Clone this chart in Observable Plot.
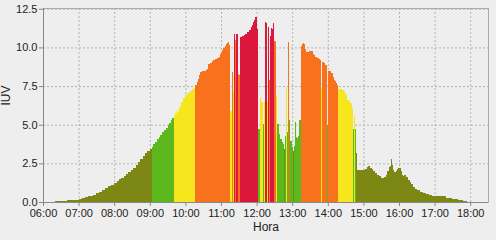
<!DOCTYPE html>
<html>
<head>
<meta charset="utf-8">
<script src="https://cdn.jsdelivr.net/npm/d3@7"></script>
<script src="https://cdn.jsdelivr.net/npm/@observablehq/plot@0.6"></script>
<style>
  html, body { margin: 0; padding: 0; background: #eeeeee; }
  .uv [aria-label$="tick"] { color: #888888; }
</style>
</head>
<body>
<div id="chart"></div>
<script>
// Axis titles
const xTitle = "Hora";
const yTitle = "IUV";
// Hour tick labels
const hourTicks = ["06:00","07:00","08:00","09:00","10:00","11:00","12:00","13:00","14:00","15:00","16:00","17:00","18:00"];
const uvTicks = [0, 2.5, 5, 7.5, 10, 12.5];
// UV class breaks and colours
const uvBreaks = [3.5, 5.5, 7.5, 10.5];
const uvColors = ["#7d8714", "#5cb81c", "#f5e61e", "#f8711c", "#dc173c"];

// Measurement times (HH:MM), 10 per row
const times = [
  "06:00","06:10","06:20","06:30","06:40","06:50","07:00","07:05","07:10","07:15",
  "07:20","07:25","07:30","07:35","07:40","07:45","07:50","07:55","08:00","08:04",
  "08:08","08:12","08:16","08:20","08:24","08:28","08:32","08:36","08:40","08:44",
  "08:48","08:52","08:56","09:00","09:03","09:06","09:09","09:12","09:15","09:18",
  "09:21","09:24","09:27","09:30","09:33","09:36","09:38","09:40","09:43","09:46",
  "09:48","09:50","09:53","09:56","09:59","10:02","10:05","10:08","10:11","10:14",
  "10:17","10:19","10:21","10:23","10:25","10:28","10:31","10:34","10:36","10:38",
  "10:41","10:44","10:47","10:50","10:53","10:56","10:58","11:00","11:02","11:04",
  "11:06","11:08","11:10","11:12","11:14","11:16","11:18","11:19","11:20","11:21",
  "11:22","11:24","11:26","11:28","11:30","11:32","11:35","11:38","11:41","11:44",
  "11:47","11:50","11:52","11:54","11:56","11:58","12:00","12:01","12:03","12:05",
  "12:06","12:07","12:08","12:10","12:11","12:13","12:14","12:16","12:17","12:19",
  "12:20","12:21","12:22","12:24","12:26","12:28","12:30","12:32","12:33","12:34",
  "12:35","12:37","12:38","12:40","12:42","12:44","12:46","12:47","12:48","12:50",
  "12:51","12:52","12:53","12:54","12:55","12:56","12:57","12:59","13:00","13:01",
  "13:03","13:04","13:05","13:06","13:08","13:09","13:11","13:12","13:14","13:16",
  "13:18","13:20","13:22","13:24","13:26","13:29","13:32","13:35","13:37","13:39",
  "13:42","13:45","13:47","13:48","13:50","13:53","13:56","13:58","13:59","14:00",
  "14:03","14:06","14:08","14:10","14:12","14:14","14:16","14:17","14:18","14:21",
  "14:24","14:27","14:29","14:31","14:32","14:33","14:36","14:38","14:40","14:42",
  "14:44","14:45","14:46","14:47","14:48","14:50","14:54","14:57","15:00","15:03",
  "15:06","15:08","15:11","15:14","15:17","15:20","15:23","15:26","15:29","15:32",
  "15:35","15:38","15:40","15:43","15:45","15:47","15:48","15:50","15:52","15:55",
  "15:57","15:59","16:01","16:03","16:05","16:07","16:09","16:12","16:15","16:18",
  "16:21","16:24","16:27","16:30","16:35","16:40","16:45","16:50","16:55","17:00",
  "17:10","17:20","17:30","17:40","17:48","17:55"
];
// UV index values, aligned with times
const uv = [
  0.01,0.02,0.04,0.07,0.11,0.16,0.21,0.25,0.30,0.36,
  0.42,0.48,0.56,0.66,0.77,0.90,1.02,1.12,1.23,1.35,
  1.46,1.57,1.69,1.80,1.92,2.04,2.20,2.40,2.60,2.80,
  2.98,3.15,3.32,3.45,3.56,3.72,3.90,4.05,4.20,4.35,
  4.50,4.65,4.80,4.95,5.10,5.28,5.45,5.55,5.75,5.92,
  5.85,6.15,6.45,6.75,6.95,7.00,7.08,7.18,7.28,7.40,
  7.55,7.75,7.98,8.20,8.40,8.48,8.48,8.52,8.60,8.90,
  9.00,9.10,9.20,9.25,9.30,9.40,9.55,9.70,9.82,9.95,
  10.08,10.20,10.30,10.38,10.15,5.90,10.10,8.40,10.93,7.10,
  10.90,10.45,10.90,8.30,8.20,10.70,10.75,10.80,10.90,11.00,
  11.15,11.30,11.45,11.64,11.80,11.97,11.86,11.20,4.70,5.23,
  6.75,8.27,6.45,6.56,5.04,6.50,11.66,11.60,6.50,11.40,
  11.35,7.90,10.75,11.27,11.20,11.58,10.43,10.00,6.86,9.80,
  5.02,4.90,4.37,4.10,3.90,3.75,3.60,3.45,4.26,7.47,
  6.34,4.50,10.32,4.37,5.30,4.10,3.93,3.75,3.55,3.30,
  3.60,5.34,5.20,4.20,4.15,4.30,5.34,5.30,10.10,10.25,
  10.28,10.20,9.93,9.70,9.72,9.78,9.75,9.56,9.50,9.35,
  9.30,9.28,9.20,7.40,9.05,9.00,8.85,8.75,5.00,8.50,
  8.45,8.35,8.10,7.90,7.80,7.70,7.55,4.30,7.30,7.33,
  7.25,7.18,7.00,6.90,4.80,6.60,6.55,6.40,6.10,4.70,
  5.56,5.47,4.70,4.00,3.18,2.10,2.09,2.05,2.05,2.14,
  2.25,2.31,2.22,2.14,2.00,1.90,1.77,1.65,1.57,1.58,
  1.63,1.75,1.99,2.25,2.35,2.81,2.40,2.10,1.92,2.00,
  2.12,2.20,2.18,1.99,1.75,1.66,1.77,1.60,1.45,1.30,
  1.15,0.95,0.82,0.75,0.66,0.58,0.52,0.47,0.42,0.37,
  0.36,0.28,0.20,0.15,0.09,0
];

const toDate = s => { const [h, m] = s.split(":").map(Number); return new Date(Date.UTC(2000, 0, 1, h, m)); };
const tickDates = hourTicks.map(toDate);
const bars = times.map((s, i) => ({
  t: toDate(s),
  t2: toDate(times[Math.min(i + 1, times.length - 1)]),
  uv: uv[i]
}));
const xStart = toDate("06:00"), xEnd = toDate("18:30");

const chart = Plot.plot({
  className: "uv",
  width: 496,
  height: 240,
  marginLeft: 43,
  marginRight: 8,
  marginTop: 8,
  marginBottom: 38,
  style: {background: "#eeeeee", fontFamily: "'Liberation Sans', Arial, sans-serif", fontSize: "11px", color: "#222222", overflow: "visible"},
  x: {type: "utc", domain: [xStart, xEnd], ticks: tickDates, tickFormat: d3.utcFormat("%H:%M"), tickSize: 4, tickPadding: 3, label: null},
  y: {domain: [0, 12.55], ticks: uvTicks, tickFormat: d3.format(".1f"), tickSize: 4, tickPadding: 2, label: null},
  color: {type: "threshold", domain: uvBreaks, range: uvColors},
  marks: [
    Plot.ruleX(tickDates, {stroke: "#b4b4b4", strokeDasharray: "2,2"}),
    Plot.ruleY(uvTicks, {stroke: "#b4b4b4", strokeDasharray: "2,2"}),
    Plot.rectY(bars, {x1: "t", x2: "t2", y: "uv", fill: "uv", shapeRendering: "crispEdges"}),
    Plot.frame({stroke: "#aaaaaa"}),
    Plot.ruleY([0], {stroke: "#888888"}),
    Plot.ruleX([xStart], {stroke: "#888888"}),
    Plot.text([xTitle], {frameAnchor: "bottom", dy: 28, fontSize: 12, fill: "#222222"}),
    Plot.text([yTitle], {frameAnchor: "left", dx: -37, rotate: -90, fontSize: 12, fill: "#222222"})
  ]
});
document.getElementById("chart").appendChild(chart);
</script>
</body>
</html>
